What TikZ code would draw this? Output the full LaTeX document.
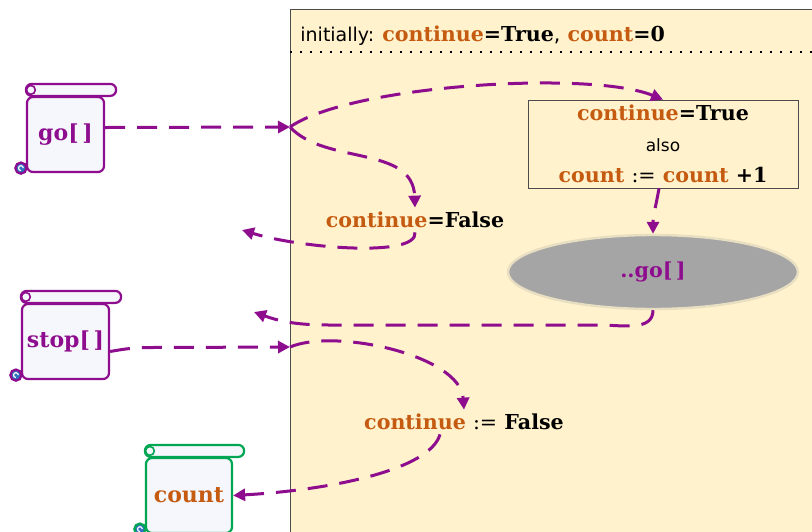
\documentclass[tikz,border=0pt]{standalone}
\usepackage{fontspec}
\setmainfont{DejaVu Serif}
\newfontfamily\labelsans{DejaVu Sans}
\usepackage{tikz}
\usetikzlibrary{arrows.meta,calc,shapes.geometric}
\definecolor{panelfill}{HTML}{FFF2CC}
\definecolor{varorange}{HTML}{C55A11}
\definecolor{callpurple}{HTML}{8E0C8E}
\definecolor{scrollgreen}{HTML}{00A651}
\definecolor{scrollblue}{HTML}{2F6FC0}
\definecolor{scrollfill}{HTML}{F6F7FC}
\definecolor{ovalgray}{HTML}{A5A5A5}
\newcommand{\var}[1]{\textcolor{varorange}{#1}}
% roll on top and curls of a scroll round a body node
\newcommand{\drawscroll}[2]{%
  \draw[#2,line width=1.1pt,fill=scrollfill,rounded corners=2.9pt]
    (#1.north west) rectangle ($(#1.north east)+(11,-12)$);
  \draw[#2,line width=0.8pt] ($(#1.north west)+(5,-6)$) circle[radius=2.2pt];
  \draw[#2,line width=1.1pt,fill=scrollblue] ($(#1.south west)+(-5,-5)$) circle[radius=2.8pt];
  \draw[white,line width=0.6pt] ($(#1.south west)+(-5,-5)$) ++(1.2pt,0)
    arc[start angle=0,end angle=270,radius=1.2pt];
}

\begin{document}
\begin{tikzpicture}[x=0.5pt,y=-0.5pt,
  every node/.style={font=\fontsize{10.3}{12}\selectfont\bfseries},
  scrollbody/.style={draw=#1,line width=1.1pt,fill=scrollfill,rounded corners=3pt,
    minimum height=37.5pt,inner sep=0pt,font=\fontsize{11}{13}\selectfont\bfseries},
  flow/.style={callpurple,line width=1.5pt,dash pattern=on 10pt off 6pt,
    -{Triangle[length=6pt,width=6pt]}}]
  \useasboundingbox (0,0) rectangle (812,531);

  % state panel
  \fill[panelfill] (290,9) rectangle (815,535);
  \draw[black!70] (290,535) -- (290,9) -- (815,9);
  \draw[line width=0.8pt,dash pattern=on 0.8pt off 4.2pt] (290,52) -- (812,52);
  \node[anchor=base west,inner sep=0pt] (init) at (300,41)
    {{\labelsans\mdseries\fontsize{9.5}{12}\selectfont initially: }\var{continue}=True{\labelsans\mdseries ,} \var{count}=0};

  % scrolls
  \node[scrollbody=callpurple,minimum width=38.5pt,text=callpurple] (go) at (65.5,134.5) {go[\,]};
  \drawscroll{go}{callpurple}
  \node[scrollbody=callpurple,minimum width=43.5pt,text=callpurple] (stop) at (65.5,341.5) {stop[\,]};
  \drawscroll{stop}{callpurple}
  \node[scrollbody=scrollgreen,minimum width=43pt,text=varorange] (count) at (189,495.5) {count};
  \drawscroll{count}{scrollgreen}

  % states inside the panel
  \node[draw=black!70,fill=panelfill,minimum width=135pt,minimum height=44pt,inner sep=0pt,
    align=center,font=\fontsize{10.3}{15.5}\selectfont\bfseries] (update) at (663,144)
    {\var{continue}=True\\{\labelsans\mdseries\fontsize{8.5}{10}\selectfont also}\\
     \var{count} {\mdseries:=} \var{count} +1};
  \node[ellipse,fill=ovalgray,draw=ovalgray!25!panelfill,line width=1.2pt,
    minimum width=145pt,minimum height=37pt,text=callpurple] (again) at (653,272) {..go[\,]};
  \node[inner sep=2pt] (goset) at (415,220) {\var{continue}=False};
  \node[inner sep=2pt] (finish) at (464,422) {\var{continue} {\mdseries:=} False};

  % free ends
  \coordinate (goin) at (290,127);
  \coordinate (stopin) at (290,347);
  \coordinate (goback) at (242,230);
  \coordinate (againback) at (254,312);

  % go[] call
  \draw[flow] ([yshift=3.5pt]go.east) -- (goin);
  \draw[flow] (goin) .. controls (350,85) and (590,70) .. (update.north);
  \draw[flow] (goin) .. controls (325,165) and (413,145) .. (goset.north);
  \draw[flow] (goset.south) .. controls (418,258) and (300,248) .. (goback);
  \draw[flow] ([xshift=-2pt]update.south) to[out=-100,in=90] (again.north);
  \draw[flow] (again.south) to[out=-90,in=0] (600,325) -- (330,325) to[out=180,in=-20] (againback);

  % stop[] call
  \draw[flow] ([yshift=-5pt]stop.east) to[out=10,in=180] ++(40,-4) -- (stopin);
  \draw[flow] (stopin) .. controls (335,328) and (460,355) .. (finish.north);
  \draw[flow] ([xshift=-12pt]finish.south) .. controls (430,470) and (330,490) .. (count.east);
\end{tikzpicture}
\end{document}
